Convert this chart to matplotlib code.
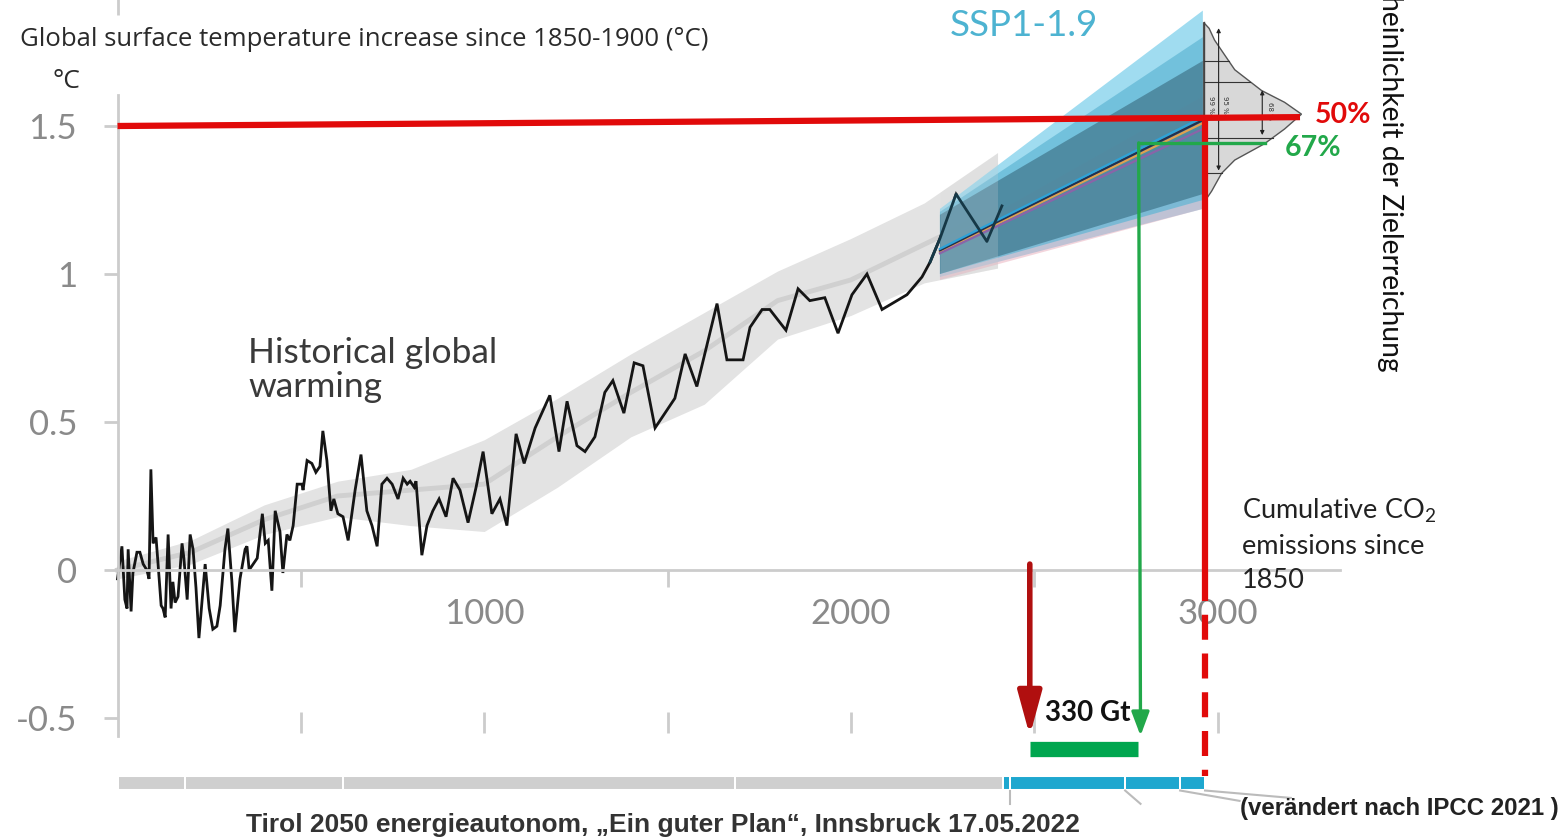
import numpy as np
import matplotlib
matplotlib.use("Agg")
import matplotlib.pyplot as plt

# historical warming vs cumulative CO2 (Gt CO2, degC)
hist_co2 = [0, 12, 20, 26, 29, 37, 42, 53, 61, 70, 80, 86, 91, 97, 105, 110, 119, 124, 130, 138,
            146, 151, 157, 165, 176, 181, 190, 198, 206, 214, 222, 239, 250, 260, 271, 280, 293, 301,
            312, 320, 334, 348, 353, 359, 370, 381, 395, 403, 411, 421, 430, 443, 451, 462, 470, 479,
            490, 503, 506, 517, 530, 541, 552, 560, 571, 582, 590, 601, 615, 629, 648, 664, 680, 694,
            708, 721, 735, 749, 765, 779, 790, 798, 809, 814, 830, 844, 860, 877, 896, 915, 934, 956,
            978, 997, 1021, 1043, 1062, 1087, 1109, 1139, 1179, 1204, 1226, 1253, 1275, 1302, 1329,
            1351, 1381, 1409, 1433, 1466, 1493, 1520, 1548, 1580, 1635, 1662, 1706, 1725, 1758, 1779,
            1823, 1856, 1888, 1929, 1965, 2003, 2044, 2085, 2153, 2194, 2216, 2243, 2287, 2371, 2412]
hist_temp = [-0.03, 0.08, -0.10, -0.13, 0.07, -0.14, -0.01, 0.06, 0.06, 0.02, 0.00, -0.03, 0.34,
             0.09, 0.11, 0.03, -0.12, -0.13, -0.16, 0.12, -0.13, -0.04, -0.11, -0.09, 0.09, 0.04,
             -0.10, 0.12, 0.07, -0.06, -0.23, 0.02, -0.13, -0.20, -0.19, -0.12, 0.07, 0.14, -0.04,
             -0.21, -0.03, 0.07, 0.08, 0.00, 0.02, 0.04, 0.19, 0.09, 0.10, -0.07, 0.20, 0.13, -0.01,
             0.12, 0.10, 0.15, 0.29, 0.29, 0.27, 0.37, 0.36, 0.33, 0.35, 0.47, 0.37, 0.20, 0.24, 0.19,
             0.18, 0.10, 0.27, 0.39, 0.20, 0.15, 0.08, 0.29, 0.31, 0.29, 0.24, 0.31, 0.29, 0.30, 0.28,
             0.30, 0.05, 0.15, 0.20, 0.24, 0.18, 0.31, 0.27, 0.16, 0.28, 0.40, 0.19, 0.24, 0.15, 0.46,
             0.36, 0.48, 0.59, 0.40, 0.57, 0.42, 0.40, 0.45, 0.60, 0.64, 0.53, 0.70, 0.69, 0.48, 0.53,
             0.58, 0.73, 0.62, 0.90, 0.71, 0.71, 0.82, 0.88, 0.88, 0.81, 0.95, 0.91, 0.92, 0.80, 0.93,
             1.00, 0.88, 0.93, 0.99, 1.04, 1.12, 1.27, 1.11, 1.23]

# smoothed historical band
band_co2 = [0, 200, 400, 600, 800, 1000, 1200, 1400, 1600, 1800, 2000, 2200, 2400]
band_mid = [0.0, 0.06, 0.17, 0.25, 0.27, 0.29, 0.45, 0.60, 0.74, 0.91, 0.98, 1.10, 1.22]
band_hi = [0.03, 0.10, 0.22, 0.30, 0.34, 0.44, 0.58, 0.73, 0.87, 1.01, 1.12, 1.24, 1.41]
band_lo = [-0.03, 0.02, 0.12, 0.18, 0.15, 0.13, 0.28, 0.45, 0.56, 0.78, 0.86, 0.97, 1.02]

# SSP1-1.9 projection fan
fan_co2 = [2243, 2960]
fan_layers = {
    "outer": ([0.99, 1.22], [1.22, 1.89]),
    "pink": ([0.98, 1.10], [1.22, 1.60]),
    "mid": ([1.00, 1.21], [1.25, 1.80]),
    "core": ([1.00, 1.20], [1.27, 1.72]),
}
fan_medians = {"#e0a050": [1.075, 1.51], "#22304f": [1.08, 1.52], "#8a64a8": [1.07, 1.49], "#2da3d8": [1.085, 1.53]}

# warming distribution at the budget point
pdf_temp = [1.85, 1.83, 1.79, 1.69, 1.62, 1.58, 1.54, 1.49, 1.44, 1.385, 1.34, 1.28, 1.24]
pdf_width = [0, 15, 30, 85, 158, 221, 267, 221, 166, 85, 49, 22, 0]

# budget markers
red_start = 2488
green_x = 2785
budget_x = 2962
bar_segments_grey = [(0, 184), (184, 615), (615, 1684), (1684, 2415)]
bar_segments_blue = [(2415, 2434), (2434, 2748), (2748, 2898), (2898, 2966)]

W, H = 1566, 839
fig = plt.figure(figsize=(W / 100, H / 100), dpi=100)
ax = fig.add_axes([0, 0, 1, 1])
ax.set_xlim(-320.5, 3950.4)
ax.set_ylim(-0.9088, 1.9257)
ax.patch.set_alpha(0)

def px(x, y):
    return x / W, 1 - y / H

# axes styling
for s in ["top", "right"]:
    ax.spines[s].set_visible(False)
grey = "#cccccc"
ax.spines["left"].set_position(("data", 0))
ax.spines["bottom"].set_position(("data", 0))
ax.spines["left"].set_bounds(-0.56, 1.605)
ax.spines["bottom"].set_bounds(0, 3333)
for s in ["left", "bottom"]:
    ax.spines[s].set_color(grey)
    ax.spines[s].set_linewidth(2)
ax.vlines(0, 1.875, 1.93, color=grey, lw=2)

ax.set_yticks([-0.5, 0, 0.5, 1, 1.5])
ax.set_yticklabels(["-0.5", "0", "0.5", "1", "1.5"])
ax.tick_params(axis="y", length=10, width=2, color=grey, pad=19, labelsize=25, labelcolor="#8a8a8a")
ax.set_xticks([1000, 2000, 3000])
ax.set_xticks([500, 1500, 2500, 3000], minor=True)
ax.tick_params(axis="x", which="major", length=0, pad=20, labelsize=25, labelcolor="#8a8a8a")
ax.tick_params(axis="x", which="minor", length=12, width=2, color=grey)
for lab in ax.get_xticklabels() + ax.get_yticklabels():
    lab.set_family("Lato")
ax.vlines([500, 1000, 1500, 2000, 2500, 3000], -0.48, -0.55, color=grey, lw=2)

# bottom bar
for a, b in bar_segments_grey:
    ax.plot([a + 4, b - 4], [-0.7196, -0.7196], color="#cfcfcf", lw=8.6, solid_capstyle="butt")
for a, b in bar_segments_blue:
    ax.plot([a + 3, b - 3], [-0.7196, -0.7196], color="#1ea7cf", lw=8.6, solid_capstyle="butt")
ax.plot([2434, 2434], [-0.745, -0.79], color="#bbbbbb", lw=1.5)
ax.plot([2748, 2790], [-0.745, -0.79], color="#bbbbbb", lw=1.5)
ax.plot([2898, 3060], [-0.745, -0.78], color="#bbbbbb", lw=1.5)
ax.plot([2966, 3200], [-0.745, -0.77], color="#bbbbbb", lw=1.5)

# historical band
ax.fill_between(band_co2, band_lo, band_hi, color="#e3e3e3", lw=0, zorder=1)
ax.plot(band_co2, band_mid, color="#d0d0d0", lw=3.5, zorder=1.5)

# historical line (the part inside the fan shows through darker)
ax.plot(hist_co2, hist_temp, color="#151515", lw=2, zorder=2, solid_joinstyle="miter")
k0 = hist_co2.index(2216)
ax.plot(hist_co2[k0:], hist_temp[k0:], color="#163846", lw=2, zorder=3.6)

# fan
fan_cols = {"outer": ("#8fd6ee", 0.85), "pink": ("#e6a3b3", 0.45), "mid": ("#5fb6d4", 0.7), "core": ("#477f95", 0.8)}
for k, (lo, hi) in fan_layers.items():
    c, a = fan_cols[k]
    ax.fill([fan_co2[0], fan_co2[1], fan_co2[1], fan_co2[0]], [lo[0], hi[0], hi[1], lo[1]],
            color=c, alpha=a, lw=0, zorder=3)
for c, (y0, y1) in fan_medians.items():
    ax.plot(fan_co2, [y0, y1], color=c, lw=1.6, zorder=3.5)

# historical band showing faintly over the start of the fan
ov_x = [fan_co2[0], band_co2[-1]]
ov_lo = [np.interp(fan_co2[0], band_co2, band_lo), band_lo[-1]]
ov_hi = [np.interp(fan_co2[0], band_co2, band_hi), band_hi[-1]]
ax.fill_between(ov_x, ov_lo, ov_hi, color="#d8d8d8", alpha=0.22, lw=0, zorder=3.4)

# distribution
pdf_x = [budget_x + w for w in pdf_width]
ax.fill(pdf_x, pdf_temp, facecolor="#d8d8d8", edgecolor="#555555", lw=1, zorder=4)
ax.plot([budget_x, budget_x], [1.24, 1.85], color="#444444", lw=1, zorder=4.2)
for t in [1.72, 1.65, 1.53, 1.46, 1.34]:
    w = np.interp(t, pdf_temp[::-1], pdf_width[::-1])
    ax.plot([budget_x, budget_x + w], [t, t], color="#333333", lw=0.8, zorder=4.2)
ax.annotate("", xy=(budget_x + 41, 1.84), xytext=(budget_x + 41, 1.34),
            arrowprops=dict(arrowstyle="<|-|>", color="#222222", lw=0.8, mutation_scale=6), zorder=4.3)
ax.annotate("", xy=(budget_x + 160, 1.63), xytext=(budget_x + 160, 1.46),
            arrowprops=dict(arrowstyle="<|-|>", color="#222222", lw=0.8, mutation_scale=6), zorder=4.3)
ax.text(budget_x + 20, 1.57, "99 %", rotation=270, fontsize=5, ha="center", va="center", color="#333", zorder=4.4)
ax.text(budget_x + 58, 1.57, "95 %", rotation=270, fontsize=5, ha="center", va="center", color="#333", zorder=4.4)
ax.text(budget_x + 180, 1.55, "68 %", rotation=270, fontsize=5, ha="center", va="center", color="#333", zorder=4.4)

# red 1.5 line and budget line
red = "#e10a0a"
ax.plot([0, 3225], [1.50, 1.53], color=red, lw=4.5, zorder=5, solid_capstyle="butt")
ax.plot([2966, 2966], [1.53, -0.02], color=red, lw=4.5, zorder=5, solid_capstyle="butt")
ax.plot([2966, 2966], [-0.02, -0.695], color=red, lw=4.5, zorder=5, linestyle=(0, (4, 2.2)))

# green 67% line
green = "#22a84a"
ax.plot([2788, 3130], [1.443, 1.443], color=green, lw=2.4, zorder=5)
ax.annotate("", xy=(2790, -0.56), xytext=(2785, 1.443),
            arrowprops=dict(arrowstyle="-|>,head_width=0.3,head_length=0.8", color=green, lw=2.4,
                            mutation_scale=18, shrinkA=0, shrinkB=0), zorder=5)

# dark red arrow
ax.annotate("", xy=(red_start, -0.56), xytext=(red_start, 0.02),
            arrowprops=dict(arrowstyle="-|>,head_width=0.3,head_length=1.1", color="#b00f0f", lw=4,
                            mutation_scale=24, shrinkA=0, shrinkB=0), zorder=5)

# remaining budget bar
ax.plot([red_start, 2783], [-0.606, -0.606], color="#00a64f", lw=11, solid_capstyle="butt", zorder=5)

# texts
fig.text(*px(20, 40), "Global surface temperature increase since 1850-1900 (°C)", fontsize=18.5,
         family="Open Sans", color="#2a2a2a", va="center", ha="left")
fig.text(*px(52, 82), "°C", fontsize=19, family="Open Sans", color="#2a2a2a", va="center", ha="left")
fig.text(*px(248, 370), "Historical global\nwarming", fontsize=25.5, family="Lato", color="#3a3a3a",
         va="center", ha="left", linespacing=1.05)
fig.text(*px(950, 25), "SSP1-1.9", fontsize=26.5, family="Lato", color="#4db3d1", va="center", ha="left")
fig.text(*px(1315, 115), "50%", fontsize=20.5, family="Lato", weight="bold", color=red, va="center", ha="left")
fig.text(*px(1285, 148), "67%", fontsize=20.5, family="Lato", weight="bold", color=green, va="center", ha="left")
fig.text(*px(1242, 545), "Cumulative CO$_\\mathregular{2}$\nemissions since\n1850", fontsize=19.5, family="Lato",
         color="#222222", va="center", ha="left", linespacing=1.45)
fig.text(*px(1390, 372), "Wahrscheinlichkeit der Zielerreichung", rotation=270, fontsize=20.3, family="Lato",
         color="#111111", ha="center", va="bottom")
fig.text(*px(1045, 713), "330 Gt", fontsize=20, family="Lato", weight="bold", color="#111111",
         va="center", ha="left")
fig.text(*px(663, 825), "Tirol 2050 energieautonom, \u201eEin guter Plan\u201c, Innsbruck 17.05.2022", fontsize=19,
         family="Liberation Sans", weight="bold", color="#333333", va="center", ha="center")
fig.text(*px(1240, 808), "(verändert nach IPCC 2021 )", fontsize=17.3,
         family="Liberation Sans", weight="bold", color="#222222", va="center", ha="left")

fig.savefig("out.png", dpi=100)
